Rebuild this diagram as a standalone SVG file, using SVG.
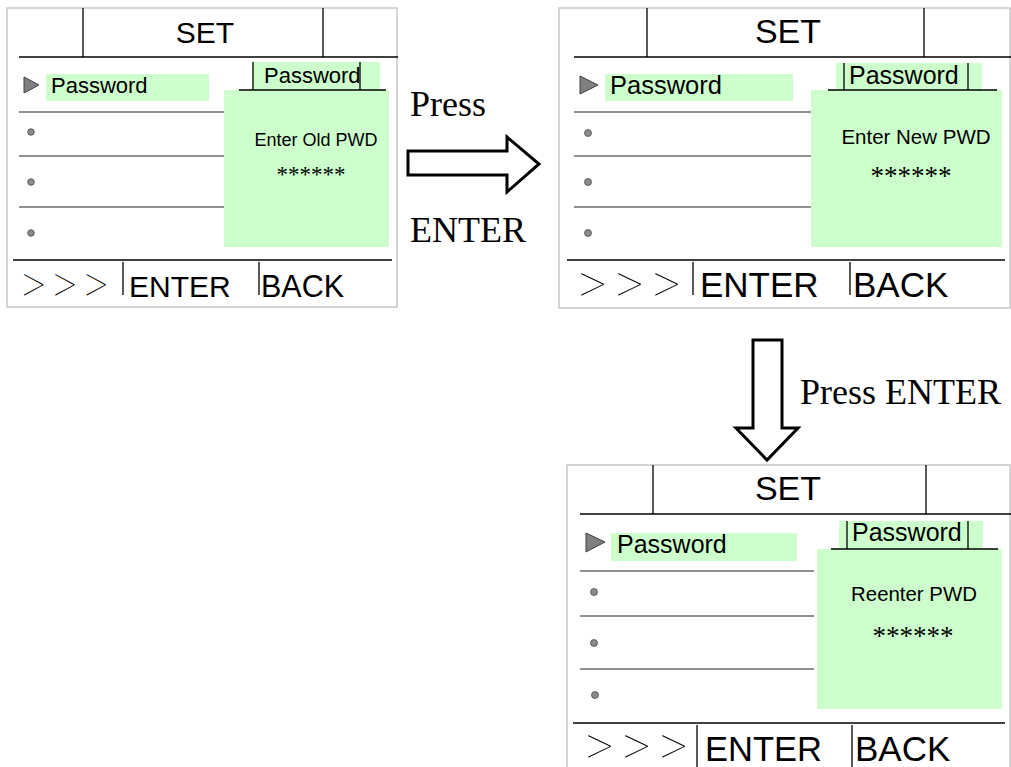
<svg xmlns="http://www.w3.org/2000/svg" width="1011" height="767" viewBox="0 0 1011 767">
<style>
.frame{fill:#fff;stroke:#c8c8c8;stroke-width:1.5}
.ln{stroke:#000;stroke-width:1.3;fill:none}
.row{stroke:#222;stroke-width:1;fill:none}
.green{fill:#ccffcc}
.tri{fill:#7f7f7f;stroke:#404040;stroke-width:1}
.dot{fill:#8a8a8a;stroke:#505050;stroke-width:0.8}
.sans{font-family:"Liberation Sans",Arial,sans-serif;fill:#000}
.serif{font-family:"Liberation Serif","Times New Roman",serif;fill:#000}
.gt{font-family:"Inter","Liberation Sans",sans-serif;font-weight:100;fill:#000}
.arrow{fill:#fff;stroke:#000;stroke-width:3;stroke-linejoin:miter}
</style>

<g id="panel1">
<rect class="frame" x="7" y="8" width="390" height="299"/>
<line class="ln" x1="83" y1="8" x2="83" y2="57"/>
<line class="ln" x1="323" y1="8" x2="323" y2="57"/>
<line class="ln" x1="19" y1="57" x2="398" y2="57"/>
<text class="sans" x="205" y="43" font-size="30" text-anchor="middle">SET</text>
<polygon class="tri" points="24,77 39,85 24,93"/>
<rect class="green" x="46" y="74" width="163" height="27"/>
<text class="sans" x="51" y="93" font-size="22">Password</text>
<line class="row" x1="19" y1="112" x2="224" y2="112"/>
<line class="row" x1="19" y1="156" x2="224" y2="156"/>
<line class="row" x1="19" y1="207" x2="224" y2="207"/>
<circle class="dot" cx="31" cy="132" r="3.3"/>
<circle class="dot" cx="31" cy="182" r="3.3"/>
<circle class="dot" cx="31" cy="233" r="3.3"/>
<rect class="green" x="252" y="62" width="128" height="28"/>
<rect class="green" x="224" y="90" width="165" height="157"/>
<line class="ln" x1="239" y1="90" x2="386" y2="90"/>
<line class="ln" x1="253" y1="62" x2="253" y2="90"/>
<line class="ln" x1="360" y1="62" x2="360" y2="90"/>
<text class="sans" x="264" y="83" font-size="22">Password</text>
<text class="sans" x="316" y="146" font-size="18" text-anchor="middle">Enter Old PWD</text>
<text class="serif" x="311" y="182" font-size="23" text-anchor="middle">******</text>
<line class="ln" x1="13" y1="260" x2="392" y2="260"/>
<line class="ln" x1="123" y1="262" x2="123" y2="295"/>
<line class="ln" x1="259" y1="262" x2="259" y2="295"/>
<text class="gt" transform="translate(17,297) scale(1.2,1)" font-size="41">&gt;&gt;&gt;</text>
<text class="sans" x="129" y="297" font-size="30">ENTER</text>
<text class="sans" x="261" y="297" font-size="30.5">BACK</text>
</g>

<g id="panel2">
<rect class="frame" x="559" y="8" width="451" height="300"/>
<line class="ln" x1="647" y1="8" x2="647" y2="57"/>
<line class="ln" x1="924" y1="8" x2="924" y2="57"/>
<line class="ln" x1="574" y1="57" x2="1011" y2="57"/>
<text class="sans" x="788" y="43" font-size="34" text-anchor="middle">SET</text>
<polygon class="tri" points="580,76 598,85 580,94"/>
<rect class="green" x="605" y="74" width="188" height="27"/>
<text class="sans" x="610" y="94" font-size="25.5">Password</text>
<line class="row" x1="574" y1="112" x2="811" y2="112"/>
<line class="row" x1="574" y1="156" x2="811" y2="156"/>
<line class="row" x1="574" y1="207" x2="811" y2="207"/>
<circle class="dot" cx="588" cy="133" r="3.5"/>
<circle class="dot" cx="588" cy="182" r="3.5"/>
<circle class="dot" cx="588" cy="233" r="3.5"/>
<rect class="green" x="836" y="63" width="146" height="27"/>
<rect class="green" x="811" y="90" width="191" height="157"/>
<line class="ln" x1="828" y1="90" x2="997" y2="90"/>
<line class="ln" x1="844" y1="63" x2="844" y2="90"/>
<line class="ln" x1="968" y1="63" x2="968" y2="90"/>
<text class="sans" x="849" y="84" font-size="25">Password</text>
<text class="sans" x="916" y="144" font-size="20.5" text-anchor="middle">Enter New PWD</text>
<text class="serif" x="911" y="185" font-size="27" text-anchor="middle">******</text>
<line class="ln" x1="567" y1="260" x2="1005" y2="260"/>
<line class="ln" x1="693" y1="262" x2="693" y2="295"/>
<line class="ln" x1="850" y1="262" x2="850" y2="295"/>
<text class="gt" transform="translate(573,297) scale(1.35,1)" font-size="43">&gt;&gt;&gt;</text>
<text class="sans" x="700" y="297" font-size="35">ENTER</text>
<text class="sans" x="853" y="297" font-size="35">BACK</text>
</g>

<g id="panel3">
<rect class="frame" x="567" y="465" width="443" height="310"/>
<line class="ln" x1="653" y1="465" x2="653" y2="514"/>
<line class="ln" x1="926" y1="465" x2="926" y2="514"/>
<line class="ln" x1="580" y1="514" x2="1011" y2="514"/>
<text class="sans" x="788" y="500" font-size="34" text-anchor="middle">SET</text>
<polygon class="tri" points="586,533 605,542 586,552"/>
<rect class="green" x="611" y="533" width="186" height="28"/>
<text class="sans" x="617" y="553" font-size="25">Password</text>
<line class="row" x1="580" y1="571" x2="814" y2="571"/>
<line class="row" x1="580" y1="616" x2="814" y2="616"/>
<line class="row" x1="580" y1="669" x2="814" y2="669"/>
<circle class="dot" cx="594" cy="592" r="3.5"/>
<circle class="dot" cx="594" cy="643" r="3.5"/>
<circle class="dot" cx="595" cy="695" r="3.5"/>
<rect class="green" x="839" y="521" width="144" height="28"/>
<rect class="green" x="817" y="549" width="185" height="160"/>
<line class="ln" x1="831" y1="549" x2="998" y2="549"/>
<line class="ln" x1="847" y1="521" x2="847" y2="549"/>
<line class="ln" x1="968" y1="521" x2="968" y2="549"/>
<text class="sans" x="852" y="541" font-size="25">Password</text>
<text class="sans" x="914" y="601" font-size="20.4" text-anchor="middle">Reenter PWD</text>
<text class="serif" x="913" y="645" font-size="27" text-anchor="middle">******</text>
<line class="ln" x1="573" y1="723" x2="1005" y2="723"/>
<line class="ln" x1="697" y1="725" x2="697" y2="767"/>
<line class="ln" x1="852" y1="725" x2="852" y2="767"/>
<text class="gt" transform="translate(580,759) scale(1.35,1)" font-size="43">&gt;&gt;&gt;</text>
<text class="sans" x="705" y="761" font-size="34.5">ENTER</text>
<text class="sans" x="855" y="761" font-size="35">BACK</text>
</g>

<g id="connectors">
<polygon class="arrow" points="408,151 507,151 507,137 539,164 507,192 507,175 408,175"/>
<text class="serif" x="410" y="116" font-size="36">Press</text>
<text class="serif" x="410" y="242" font-size="36">ENTER</text>
<polygon class="arrow" points="753,340 782,340 782,428 798,428 767,460 736,428 753,428"/>
<text class="serif" x="800" y="404" font-size="36">Press ENTER</text>
</g>
</svg>
